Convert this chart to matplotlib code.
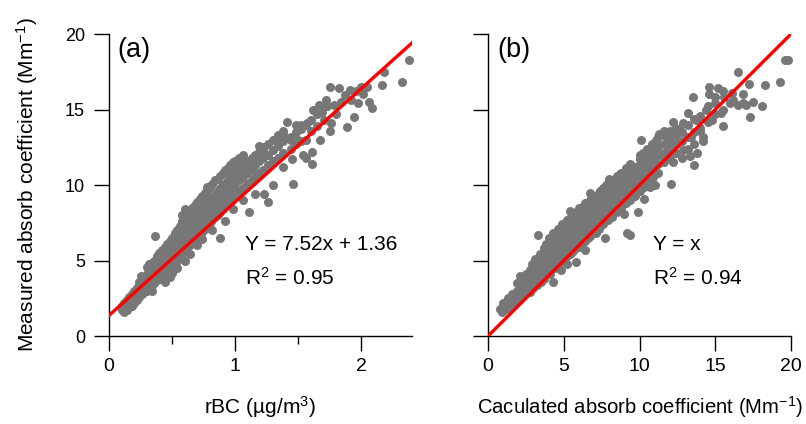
import matplotlib.pyplot as plt

plt.rcParams['font.family'] = ['Liberation Sans', 'DejaVu Sans']
plt.rcParams['mathtext.fontset'] = 'custom'
plt.rcParams['mathtext.rm'] = 'Liberation Sans'
plt.rcParams['mathtext.it'] = 'Liberation Sans:italic'

# (a) rBC (ug/m3) vs measured absorption (Mm-1)
pts_a = [
    (0.10, 1.7), (0.10, 2.0), (0.12, 1.6), (0.12, 2.2),
    (0.14, 1.9), (0.14, 2.4), (0.14, 1.7), (0.16, 2.1), (0.16, 2.6), (0.16, 1.9),
    (0.18, 2.3), (0.18, 2.8), (0.18, 2.0), (0.20, 2.5), (0.20, 3.0), (0.20, 2.2), (0.20, 2.8),
    (0.22, 2.7), (0.22, 3.2), (0.22, 2.4), (0.22, 3.0),
    (0.24, 2.9), (0.24, 3.4), (0.24, 2.6), (0.24, 3.6), (0.25, 4.0),
    (0.26, 3.1), (0.26, 3.6), (0.26, 2.8), (0.26, 3.3),
    (0.28, 3.3), (0.28, 3.9), (0.28, 2.9), (0.28, 3.5),
    (0.30, 3.5), (0.30, 4.1), (0.30, 3.0), (0.30, 3.8), (0.30, 4.6),
    (0.32, 3.7), (0.32, 4.3), (0.32, 3.2), (0.32, 4.0), (0.32, 4.8),
    (0.34, 3.9), (0.34, 4.5), (0.34, 3.4), (0.34, 4.2), (0.34, 3.0),
    (0.365, 6.6),
    (0.36, 4.1), (0.36, 4.7), (0.36, 3.5), (0.36, 4.4), (0.36, 5.0),
    (0.38, 4.2), (0.38, 4.9), (0.38, 3.7), (0.38, 4.5), (0.38, 5.3),
    (0.40, 4.4), (0.40, 5.1), (0.40, 3.8), (0.40, 4.7), (0.40, 5.5), (0.40, 4.0),
    (0.42, 4.6), (0.42, 5.3), (0.42, 4.0), (0.42, 4.9), (0.42, 5.7),
    (0.44, 4.8), (0.44, 5.5), (0.44, 4.2), (0.44, 5.1), (0.44, 5.9), (0.44, 3.6),
    (0.46, 5.0), (0.46, 5.7), (0.46, 4.4), (0.46, 5.3), (0.46, 6.1),
    (0.48, 5.2), (0.48, 5.9), (0.48, 4.5), (0.48, 5.5), (0.48, 6.3), (0.48, 3.9),
    (0.50, 5.4), (0.50, 6.1), (0.50, 4.7), (0.50, 5.7), (0.50, 6.5), (0.50, 4.2),
    (0.52, 5.6), (0.52, 6.3), (0.52, 4.9), (0.52, 5.9), (0.52, 6.8),
    (0.54, 5.8), (0.54, 6.5), (0.54, 5.0), (0.54, 6.1), (0.54, 7.0), (0.54, 4.5),
    (0.56, 6.0), (0.56, 6.7), (0.56, 5.2), (0.56, 6.3), (0.56, 7.3),
    (0.58, 6.1), (0.58, 6.9), (0.58, 5.4), (0.58, 6.5), (0.58, 7.6), (0.58, 8.0),
    (0.60, 6.3), (0.60, 7.1), (0.60, 5.6), (0.60, 6.7), (0.60, 7.8), (0.60, 8.4), (0.60, 5.0),
    (0.62, 6.5), (0.62, 7.3), (0.62, 5.8), (0.62, 6.9), (0.62, 8.1),
    (0.64, 6.7), (0.64, 7.5), (0.64, 6.0), (0.64, 7.1), (0.64, 8.3), (0.64, 5.4),
    (0.66, 6.9), (0.66, 7.7), (0.66, 6.2), (0.66, 7.3), (0.66, 8.5),
    (0.68, 7.0), (0.68, 7.9), (0.68, 6.3), (0.68, 7.5), (0.68, 8.7), (0.68, 8.2),
    (0.70, 7.2), (0.70, 8.1), (0.70, 6.5), (0.70, 7.7), (0.70, 8.9), (0.70, 6.0),
    (0.72, 7.4), (0.72, 8.3), (0.72, 6.7), (0.72, 7.9), (0.72, 9.1),
    (0.74, 7.6), (0.74, 8.5), (0.74, 6.9), (0.74, 8.1), (0.74, 9.3), (0.74, 6.4),
    (0.76, 7.8), (0.76, 8.7), (0.76, 7.1), (0.76, 8.3), (0.76, 9.5),
    (0.78, 8.0), (0.78, 8.9), (0.78, 7.3), (0.78, 8.5), (0.78, 9.7), (0.78, 9.9),
    (0.80, 8.2), (0.80, 9.1), (0.80, 7.5), (0.80, 8.7), (0.80, 9.9),
    (0.82, 8.4), (0.82, 9.2), (0.82, 7.7), (0.82, 8.9), (0.82, 10.1), (0.82, 7.0),
    (0.84, 8.6), (0.84, 9.4), (0.84, 7.9), (0.84, 9.1), (0.84, 10.3),
    (0.86, 8.8), (0.86, 9.6), (0.86, 8.0), (0.86, 9.3), (0.86, 10.4),
    (0.88, 9.0), (0.88, 9.8), (0.88, 8.2), (0.88, 9.5), (0.88, 10.6), (0.88, 6.5),
    (0.90, 9.2), (0.90, 10.0), (0.90, 8.4), (0.90, 9.7), (0.90, 10.8),
    (0.92, 9.3), (0.92, 10.1), (0.92, 8.6), (0.92, 9.9), (0.92, 11.0), (0.92, 7.6),
    (0.94, 9.5), (0.94, 10.3), (0.94, 8.8), (0.94, 10.0), (0.94, 11.1),
    (0.96, 9.7), (0.96, 10.5), (0.96, 9.0), (0.96, 10.2), (0.96, 11.3),
    (0.98, 9.9), (0.98, 10.7), (0.98, 9.2), (0.98, 10.4), (0.98, 11.5), (0.98, 8.4),
    (1.00, 10.1), (1.00, 10.9), (1.00, 9.4), (1.00, 10.5), (1.00, 11.6),
    (1.03, 10.3), (1.03, 11.2), (1.03, 9.6), (1.03, 10.8), (1.03, 11.8),
    (1.06, 10.5), (1.06, 11.4), (1.06, 9.8), (1.06, 11.0), (1.06, 12.0), (1.06, 9.0),
    (1.09, 10.8), (1.09, 11.6), (1.09, 10.1), (1.09, 11.3),
    (1.11, 8.2), (1.13, 11.0), (1.13, 11.8), (1.13, 10.3),
    (1.16, 11.3), (1.16, 12.0), (1.16, 10.5), (1.16, 9.4),
    (1.19, 11.6), (1.19, 12.2), (1.19, 10.8), (1.19, 12.6), (1.225, 12.5),
    (1.22, 11.8), (1.22, 12.4), (1.22, 11.0), (1.23, 9.4),
    (1.26, 12.0), (1.26, 12.7), (1.26, 11.3), (1.26, 8.9),
    (1.30, 12.3), (1.30, 13.0), (1.30, 11.6), (1.30, 10.0), (1.32, 12.9),
    (1.34, 12.6), (1.34, 13.3), (1.34, 11.8), (1.38, 13.6),
    (1.38, 12.9), (1.38, 13.4), (1.38, 12.1), (1.38, 11.2),
    (1.41, 14.2), (1.41, 13.1),
    (1.44, 13.2), (1.44, 13.0), (1.44, 12.4), (1.45, 11.7), (1.46, 10.1),
    (1.48, 13.5), (1.48, 14.0), (1.48, 12.7), (1.50, 13.0),
    (1.52, 13.7), (1.52, 14.0), (1.52, 12.9), (1.54, 12.0),
    (1.56, 14.0), (1.57, 14.1), (1.56, 13.0), (1.56, 11.8),
    (1.61, 11.4), (1.61, 12.2),
    (1.60, 14.3), (1.62, 15.0), (1.60, 13.6),
    (1.65, 14.7), (1.66, 15.3), (1.65, 13.9), (1.675, 13.0),
    (1.69, 14.85), (1.72, 15.6), (1.73, 15.2), (1.70, 14.3),
    (1.754, 16.5), (1.754, 13.6), (1.78, 15.3), (1.76, 14.1),
    (1.82, 16.4), (1.87, 15.96), (1.84, 15.5), (1.80, 14.7),
    (1.886, 13.86), (1.91, 16.3), (1.92, 15.6),
    (1.94, 14.5), (1.96, 16.2), (1.97, 15.4),
    (2.00, 16.5), (2.01, 16.0), (2.045, 16.5),
    (2.06, 15.5), (2.085, 15.08),
    (2.16, 16.6), (2.18, 17.5), (2.32, 16.84), (2.375, 18.3),
]

# (b) calculated vs measured absorption (Mm-1)
pts_b = [
    (0.8, 1.8), (0.9, 1.6), (1.0, 2.0), (1.2, 1.8), (1.3, 2.2), (1.5, 2.4), (1.6, 2.1),
    (1.7, 2.6), (1.8, 2.3), (1.9, 2.8), (2.0, 2.5), (2.1, 4.0), (2.1, 3.0), (2.2, 2.7),
    (2.3, 3.2), (2.4, 2.9), (2.5, 3.4), (2.6, 3.0), (2.6, 3.7), (2.7, 3.3), (2.8, 3.9),
    (2.8, 2.9), (2.9, 3.5), (2.9, 4.8), (3.0, 4.1), (3.0, 3.2), (3.1, 3.7), (3.2, 4.3),
    (3.2, 3.4), (3.3, 6.7), (3.3, 3.9), (3.4, 4.5), (3.4, 4.0), (3.5, 3.6), (3.5, 4.8),
    (3.6, 4.2), (3.6, 5.1), (3.7, 4.5), (3.7, 3.8), (3.8, 6.1), (3.8, 4.9), (3.9, 4.3),
    (3.9, 5.4), (4.0, 4.6), (4.0, 5.0), (4.1, 5.7), (4.1, 4.1), (4.2, 4.9), (4.2, 5.3),
    (4.3, 3.6), (4.3, 6.0), (4.4, 5.1), (4.4, 4.5), (4.5, 5.5), (4.5, 6.3), (4.6, 4.8),
    (4.6, 5.8), (4.7, 5.2), (4.7, 6.6), (4.8, 4.4), (4.8, 6.0), (4.9, 5.5), (4.9, 6.9),
    (5.0, 5.0), (5.0, 6.3), (5.1, 5.8), (5.1, 7.2), (5.2, 4.8), (5.2, 6.5), (5.3, 6.0),
    (5.3, 7.5), (5.4, 5.4), (5.4, 8.3), (5.5, 6.8), (5.5, 6.2), (5.6, 7.7), (5.6, 5.6),
    (5.7, 7.0), (5.7, 6.4), (5.8, 8.0), (5.8, 4.9), (5.9, 7.2), (5.9, 6.6), (6.0, 8.5),
    (6.0, 5.9), (6.1, 7.4), (6.1, 6.8), (6.2, 8.2), (6.2, 6.1), (6.3, 7.6), (6.3, 7.0),
    (6.4, 8.8), (6.4, 5.7), (6.5, 7.8), (6.5, 7.2), (6.6, 8.4), (6.6, 6.5), (6.7, 9.5),
    (6.7, 7.5), (6.8, 8.1), (6.8, 7.0), (6.9, 8.8), (7.0, 7.7), (7.0, 9.2), (7.1, 8.3),
    (7.1, 6.8), (7.2, 9.0), (7.3, 8.0), (7.3, 7.3), (7.4, 9.6), (7.5, 8.6), (7.6, 9.2),
    (7.7, 6.5), (7.7, 8.2), (7.8, 10.0), (7.9, 8.9), (8.0, 9.5), (8.0, 10.4), (8.1, 8.4),
    (8.2, 9.1), (8.3, 10.2), (8.4, 9.6), (8.5, 8.7), (8.6, 10.0), (8.7, 10.7), (8.8, 9.3),
    (8.9, 10.4), (9.0, 8.1), (9.0, 9.8), (9.1, 11.0), (9.15, 6.8), (9.2, 10.2), (9.3, 9.5),
    (9.4, 11.4), (9.4, 6.7), (9.5, 10.6), (9.6, 9.9), (9.7, 11.2), (9.8, 10.4), (9.9, 8.2),
    (10.0, 11.7), (10.0, 10.8), (10.1, 13.0), (10.2, 12.1), (10.3, 9.1), (10.3, 11.2),
    (10.5, 12.4), (10.6, 10.9), (10.7, 9.9), (10.8, 12.7), (10.9, 11.5), (11.0, 10.0),
    (11.1, 13.0), (11.2, 12.2), (11.3, 13.4), (11.4, 12.0), (11.6, 13.6), (11.8, 13.2),
    (11.9, 12.5), (12.1, 10.1), (12.2, 14.2), (12.2, 11.5), (12.4, 13.8), (12.5, 12.8),
    (12.7, 13.6), (12.9, 12.3), (12.9, 14.1), (13.2, 14.8), (13.3, 11.9), (13.4, 13.2),
    (13.5, 15.8), (13.6, 11.3), (13.7, 14.3), (13.8, 12.1), (14.0, 13.6), (14.2, 13.2),
    (14.2, 12.9), (14.4, 15.0), (14.6, 16.5), (14.6, 16.0), (14.8, 14.3), (15.0, 15.4),
    (15.2, 16.4), (15.4, 14.8), (15.5, 13.9), (15.6, 15.8), (16.0, 15.4), (16.1, 16.1),
    (16.5, 17.5), (16.5, 15.3), (17.0, 15.3), (17.2, 16.7), (17.3, 14.5), (17.5, 15.5),
    (18.1, 15.2), (18.3, 16.6), (19.3, 16.8), (19.6, 18.3), (19.8, 18.3),
    # dense core of the cloud
    (1.0, 1.7), (1.0, 2.2), (1.3, 1.9), (1.3, 2.5), (1.6, 2.2), (1.6, 2.8),
    (1.9, 2.4), (1.9, 3.0), (1.9, 3.5), (2.2, 2.7), (2.2, 3.3), (2.2, 3.8),
    (2.5, 2.9), (2.5, 3.5), (2.5, 4.1), (2.8, 3.2), (2.8, 3.8), (2.8, 4.4),
    (3.1, 3.4), (3.1, 4.0), (3.1, 4.6), (3.1, 5.1), (3.4, 3.7), (3.4, 4.3), (3.4, 4.9), (3.4, 5.4),
    (3.7, 4.0), (3.7, 4.6), (3.7, 5.2), (3.7, 5.8),
    (4.0, 4.2), (4.0, 4.8), (4.0, 5.4), (4.0, 6.0), (4.0, 6.5),
    (4.3, 4.5), (4.3, 5.1), (4.3, 5.7), (4.3, 6.3), (4.3, 6.8),
    (4.6, 4.7), (4.6, 5.3), (4.6, 5.9), (4.6, 6.5), (4.6, 7.1),
    (4.9, 5.0), (4.9, 5.6), (4.9, 6.2), (4.9, 6.8), (4.9, 7.4),
    (5.2, 5.3), (5.2, 5.9), (5.2, 6.5), (5.2, 7.1), (5.2, 7.7),
    (5.5, 5.5), (5.5, 6.1), (5.5, 6.7), (5.5, 7.3), (5.5, 7.9),
    (5.8, 5.8), (5.8, 6.4), (5.8, 7.0), (5.8, 7.6), (5.8, 8.2),
    (6.1, 6.1), (6.1, 6.7), (6.1, 7.3), (6.1, 7.9), (6.1, 8.5),
    (6.4, 6.3), (6.4, 6.9), (6.4, 7.5), (6.4, 8.1), (6.4, 8.7),
    (6.7, 6.6), (6.7, 7.2), (6.7, 7.8), (6.7, 8.4), (6.7, 9.0),
    (7.0, 6.9), (7.0, 7.5), (7.0, 8.1), (7.0, 8.7), (7.0, 9.3),
    (7.3, 7.1), (7.3, 7.7), (7.3, 8.3), (7.3, 8.9), (7.3, 9.5),
    (7.6, 7.4), (7.6, 8.0), (7.6, 8.6), (7.6, 9.2), (7.6, 9.8),
    (7.9, 7.7), (7.9, 8.3), (7.9, 8.9), (7.9, 9.5), (7.9, 10.1),
    (8.2, 7.9), (8.2, 8.5), (8.2, 9.1), (8.2, 9.7), (8.2, 10.3),
    (8.5, 8.2), (8.5, 8.8), (8.5, 9.4), (8.5, 10.0), (8.5, 10.6),
    (8.8, 8.5), (8.8, 9.1), (8.8, 9.7), (8.8, 10.3), (8.8, 10.8),
    (9.1, 8.8), (9.1, 9.4), (9.1, 10.0), (9.1, 10.6), (9.1, 11.1),
    (9.4, 9.0), (9.4, 9.6), (9.4, 10.2), (9.4, 10.8), (9.4, 11.3),
    (9.7, 9.3), (9.7, 9.9), (9.7, 10.5), (9.7, 11.1),
    (10.0, 9.6), (10.0, 10.2), (10.0, 10.8), (10.0, 11.4), (10.0, 12.0),
    (10.3, 9.9), (10.3, 10.5), (10.3, 11.1), (10.3, 11.7),
    (10.6, 10.2), (10.6, 10.8), (10.6, 11.4), (10.6, 12.0),
    (10.9, 10.5), (10.9, 11.1), (10.9, 11.7), (10.9, 12.3),
    (11.2, 10.8), (11.2, 11.4), (11.2, 12.0), (11.2, 12.6), (11.2, 13.2),
    (11.6, 11.5), (11.6, 12.1), (11.6, 12.7), (11.6, 13.3),
    (12.0, 11.8), (12.0, 12.4), (12.0, 13.0), (12.0, 13.6),
    (12.4, 12.1), (12.4, 12.7), (12.4, 13.3), (12.8, 11.8), (12.8, 12.9), (12.8, 13.5),
    (13.2, 12.4), (13.2, 13.2), (13.2, 14.0), (13.6, 12.7), (13.6, 13.5), (13.6, 14.4),
    (14.0, 13.8), (14.0, 14.6), (14.5, 14.2), (14.5, 15.2), (15.0, 14.7), (15.0, 15.8),
    (15.5, 15.0), (15.5, 16.2), (16.2, 15.6), (16.8, 15.4), (16.8, 16.0),
]

slope_a, icpt_a = 7.52, 1.36
eq_text = ['Y = 7.52x + 1.36', 'Y = x']
r2_text = ['R$^{2}$ = 0.95', 'R$^{2}$ = 0.94']
panel_tags = ['(a)', '(b)']

fig = plt.figure(figsize=(8.06, 4.24), dpi=100)
ax1 = fig.add_axes([0.1352, 0.2075, 0.3759, 0.7123])
ax2 = fig.add_axes([0.6055, 0.2075, 0.3759, 0.7123])

gray = '#777777'
for ax, pts in ((ax1, pts_a), (ax2, pts_b)):
    ax.scatter([p[0] for p in pts], [p[1] for p in pts], s=42, c=gray,
               linewidths=0, zorder=2, clip_on=False)
    ax.spines[['top', 'right']].set_visible(False)
    for s in ('left', 'bottom'):
        ax.spines[s].set_linewidth(1.0)
    ax.set_ylim(0, 20)
    ax.set_yticks([0, 5, 10, 15, 20])
    ax.tick_params(which='major', direction='out', length=10.8, width=1.0)
    ax.tick_params(which='minor', direction='out', length=5.4, width=1.0)
    ax.tick_params(axis='x', pad=5)
    ax.tick_params(axis='y', pad=6.5)

# fitted / 1:1 lines
xa = [0, 2.4]
ax1.plot(xa, [slope_a * x + icpt_a for x in xa], color='red', lw=2.4, zorder=3)
ax2.plot([0, 20], [0, 20], color='red', lw=2.4, zorder=3)

ax1.set_xlim(0, 2.4)
ax1.set_xticks([0, 1, 2])
ax1.set_xticks([0.5, 1.5], minor=True)
ax2.set_xlim(0, 20)
ax2.set_xticks([0, 5, 10, 15, 20])
ax2.set_yticklabels([])

for lbl in ax1.get_yticklabels():
    lbl.set_fontsize(13)
for ax in (ax1, ax2):
    for lbl in ax.get_xticklabels():
        lbl.set_fontsize(14)

ax1.set_ylabel('Measured absorb coefficient (Mm$^{-1}$)', fontsize=15, labelpad=18)
ax1.set_xlabel('rBC (µg/m$^{3}$)', fontsize=15, labelpad=14)
ax2.set_xlabel('Caculated absorb coefficient (Mm$^{-1}$)', fontsize=14.6, labelpad=14)

for ax, tag, eq, r2, xt, xe in ((ax1, panel_tags[0], eq_text[0], r2_text[0], 0.07, 1.08),
                                 (ax2, panel_tags[1], eq_text[1], r2_text[1], 0.6, 10.9)):
    ax.text(xt, 18.5, tag, fontsize=19.5, va='baseline')
    ax.text(xe, 5.7, eq, fontsize=15, va='baseline')
    ax.text(xe, 3.4, r2, fontsize=15, va='baseline')

fig.savefig('out.png', dpi=100)
